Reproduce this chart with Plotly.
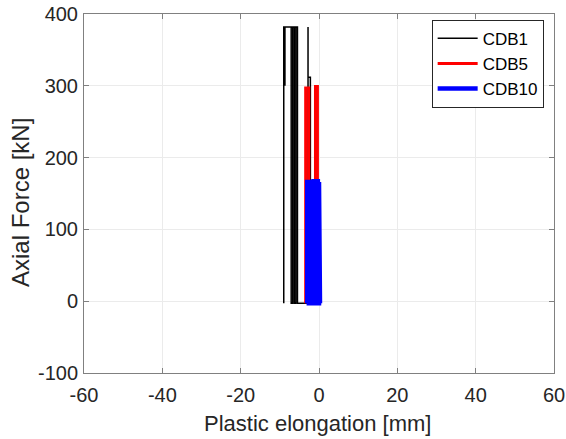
import plotly.graph_objects as go

# CDB1 (black) hysteresis path
cdb1_x = [-2.2, -2.2, -2.8, -2.8, -2.8, -5.5, -5.5, -5.9, -5.9, -6.3, -6.3, -6.7, -6.7,
          -7.1, -7.1, -9.0, -9.0, -9.0, -8.7, -8.7, -8.7, -5.5, -5.5, -5.5, -3.0]
cdb1_y = [-3, 312, 312, 382, -3, -3, 382, 382, -3, -3, 382, 382, -3,
          -3, 382, 382, -3, 382, 382, 300, 382, 382, 382, -3, -3]

# CDB5 (red)
cdb5_x = [-3.4, -3.4, -2.6, -2.6, -0.9, -0.9, -0.4, -0.4]
cdb5_y = [-3, 297, 297, -3, -3, 299, 299, -3]

# CDB10 (blue)
cdb10_x = [-3.0, -3.0, -2.6, -2.6, -2.2, -2.2, -1.8, -1.8, -1.4, -1.4, -1.0, -1.0,
           -0.6, -0.6, -0.3, -0.3, 0.0, 0.0, 0.25, 0.25]
cdb10_y = [-3, 166, 166, -3, -3, 166, 166, -3, -3, 167, 167, -3,
           -3, 167, 167, -3, -3, 166, 166, -3]

x_ticks = [-60, -40, -20, 0, 20, 40, 60]
x_ticklabels = ["-60", "-40", "-20", "0", "20", "40", "60"]
y_ticks = [-100, 0, 100, 200, 300, 400]
y_ticklabels = ["-100", "0", "100", "200", "300", "400"]

x_title = "Plastic elongation [mm]"
y_title = "Axial Force [kN]"

FONT = "Liberation Sans, Arial"

fig = go.Figure()
fig.add_trace(go.Scatter(x=cdb1_x, y=cdb1_y, mode="lines", name="CDB1",
                         line=dict(color="black", width=1.5)))
fig.add_trace(go.Scatter(x=cdb5_x, y=cdb5_y, mode="lines", name="CDB5",
                         line=dict(color="#ff0000", width=3)))
fig.add_trace(go.Scatter(x=cdb10_x, y=cdb10_y, mode="lines", name="CDB10",
                         line=dict(color="#0000ff", width=4.5)))

axis_common = dict(showline=True, linecolor="#808080", linewidth=1, mirror="ticks",
                   ticks="inside", ticklen=5, tickcolor="#808080",
                   showgrid=True, gridcolor="#ebebeb", gridwidth=1, zeroline=False,
                   automargin=False, ticklabeloverflow="allow",
                   tickfont=dict(family=FONT, size=20, color="#262626"))

fig.update_layout(
    width=566, height=439,
    margin=dict(l=84, r=12, t=14, b=66),
    plot_bgcolor="white", paper_bgcolor="white",
    xaxis=dict(range=[-60, 60], tickvals=x_ticks, ticktext=x_ticklabels,
               ticklabelstandoff=4, **axis_common),
    yaxis=dict(range=[-100, 400], tickvals=y_ticks, ticktext=y_ticklabels,
               ticklabelstandoff=1, **axis_common),
    legend=dict(x=0.978, y=0.984, xanchor="right", yanchor="top",
                bgcolor="white", bordercolor="#262626", borderwidth=1,
                font=dict(family=FONT, size=17, color="black"),
                tracegroupgap=0, itemwidth=40),
    showlegend=True,
    annotations=[
        dict(text=x_title, xref="paper", yref="paper", x=0.497, y=-0.142,
             xanchor="center", yanchor="middle", showarrow=False,
             font=dict(family=FONT, size=22, color="#262626")),
        dict(text=y_title, xref="paper", yref="paper", x=-0.135, y=0.475,
             xanchor="center", yanchor="middle", showarrow=False, textangle=-90,
             font=dict(family=FONT, size=24, color="#262626")),
    ],
)

fig.write_html("out.html", config={"displayModeBar": False},
               post_script="document.body.style.margin='0';document.body.style.overflow='hidden';")
